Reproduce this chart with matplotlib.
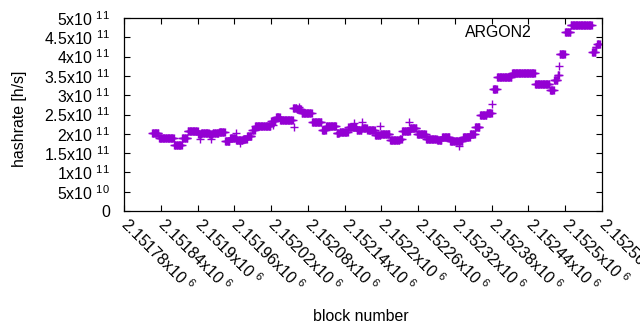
import matplotlib
matplotlib.use("Agg")
import matplotlib.pyplot as plt
import numpy as np
from matplotlib.ticker import FuncFormatter

plt.rcParams["font.family"] = ["Liberation Sans", "DejaVu Sans"]
plt.rcParams["mathtext.fontset"] = "custom"
plt.rcParams["mathtext.rm"] = "Liberation Sans"

# block numbers are offsets from this one
BASE_BLOCK = 2151780

# runs of blocks with (nearly) the same hashrate, value in 1e11 h/s
run_start = [46, 57, 82, 95, 104, 121, 126, 139, 145, 155, 165, 173, 183, 194,
             201, 209, 214, 240, 248, 255, 276, 282, 290, 307, 323, 330, 347,
             352, 366, 380, 388, 397, 410, 419, 434, 450, 454, 467, 478, 493,
             511, 519, 532, 553, 565, 573, 581, 592, 602, 609, 633, 671, 695,
             702, 708, 711, 720, 729, 764, 770, 772]
run_end = [57, 82, 95, 104, 121, 126, 139, 145, 155, 165, 173, 183, 194, 201,
           209, 214, 240, 248, 255, 276, 282, 290, 307, 323, 330, 347, 352,
           366, 380, 388, 397, 410, 419, 434, 450, 454, 467, 478, 493, 511,
           519, 532, 553, 565, 573, 581, 592, 601, 609, 633, 671, 695, 702,
           708, 711, 720, 729, 764, 770, 772, 777]
run_value = [2.01, 1.88, 1.70, 1.88, 2.06, 2.00, 2.03, 2.00, 2.03, 2.04, 1.82,
             1.88, 1.83, 1.86, 1.95, 2.09, 2.21, 2.34, 2.44, 2.36, 2.66, 2.65,
             2.54, 2.30, 2.09, 2.19, 2.01, 2.05, 2.18, 2.09, 2.14, 2.10, 1.97,
             2.00, 1.83, 1.86, 2.06, 2.14, 2.00, 1.87, 1.83, 1.92, 1.82, 1.93,
             2.00, 2.18, 2.49, 2.53, 3.15, 3.46, 3.58, 3.28, 3.13, 3.39, 3.52,
             4.07, 4.64, 4.81, 4.11, 4.24, 4.33]

# single outlying blocks
odd_block = [124, 142, 183, 189, 243, 277, 286, 375, 388, 418, 465, 547, 601, 710]
odd_value = [1.87, 1.87, 2.01, 1.75, 2.23, 2.17, 2.70, 2.27, 2.30, 2.20, 2.31,
             1.68, 2.76, 3.76]

x_ticks = np.arange(2151780, 2152561, 60)
y_ticks = np.arange(0, 5.01e11, 5e10)

# expand the runs into one point per block
blocks = [np.arange(s, e) for s, e in zip(run_start, run_end)]
values = [np.full(e - s, v) for s, e, v in zip(run_start, run_end, run_value)]
bx = np.concatenate(blocks + [np.array(odd_block)]) + BASE_BLOCK
by = np.concatenate(values + [np.array(odd_value)]) * 1e11

FS = 11.4
COLOR = "#9400D3"


def sci(v, _pos=None):
    if v == 0:
        return "0"
    e = int(np.floor(np.log10(abs(v)) + 1e-9))
    m = v / 10 ** e
    return f"{m:g}x10 $^{{\\mathregular{{{e}}}}}$"


fig = plt.figure(figsize=(6.4, 3.3), dpi=100)
ax = fig.add_axes([124 / 640, 1 - 211 / 330, 478 / 640, 193 / 330])

ax.plot(bx, by, linestyle="none", marker="+", color=COLOR,
        markersize=5.2, markeredgewidth=1.0)

ax.set_xlim(x_ticks[0], x_ticks[-1])
ax.set_ylim(0, 5e11)
ax.set_yticks(y_ticks)
ax.yaxis.set_major_formatter(FuncFormatter(sci))
ax.set_xticks(x_ticks)
ax.set_xticklabels([sci(t) for t in x_ticks], rotation=-45, ha="left",
                   va="center", rotation_mode="anchor")

ax.tick_params(direction="in", length=4.5, width=0.8, top=True, right=True,
               labelsize=FS, colors="black")
ax.tick_params(axis="y", pad=10)
ax.tick_params(axis="x", pad=7.5)
for s in ax.spines.values():
    s.set_linewidth(0.9)

fig.text(24 / 640, 1 - 119 / 330, "hashrate [h/s]", rotation=90, ha="center",
         va="baseline", rotation_mode="anchor", fontsize=FS)
fig.text(360.5 / 640, 1 - 320.7 / 330, "block number", ha="center",
         va="baseline", fontsize=FS)
fig.text(531.7 / 640, 1 - 37.3 / 330, "ARGON2", ha="right", va="baseline",
         fontsize=FS)

fig.savefig("out.png", dpi=100)
